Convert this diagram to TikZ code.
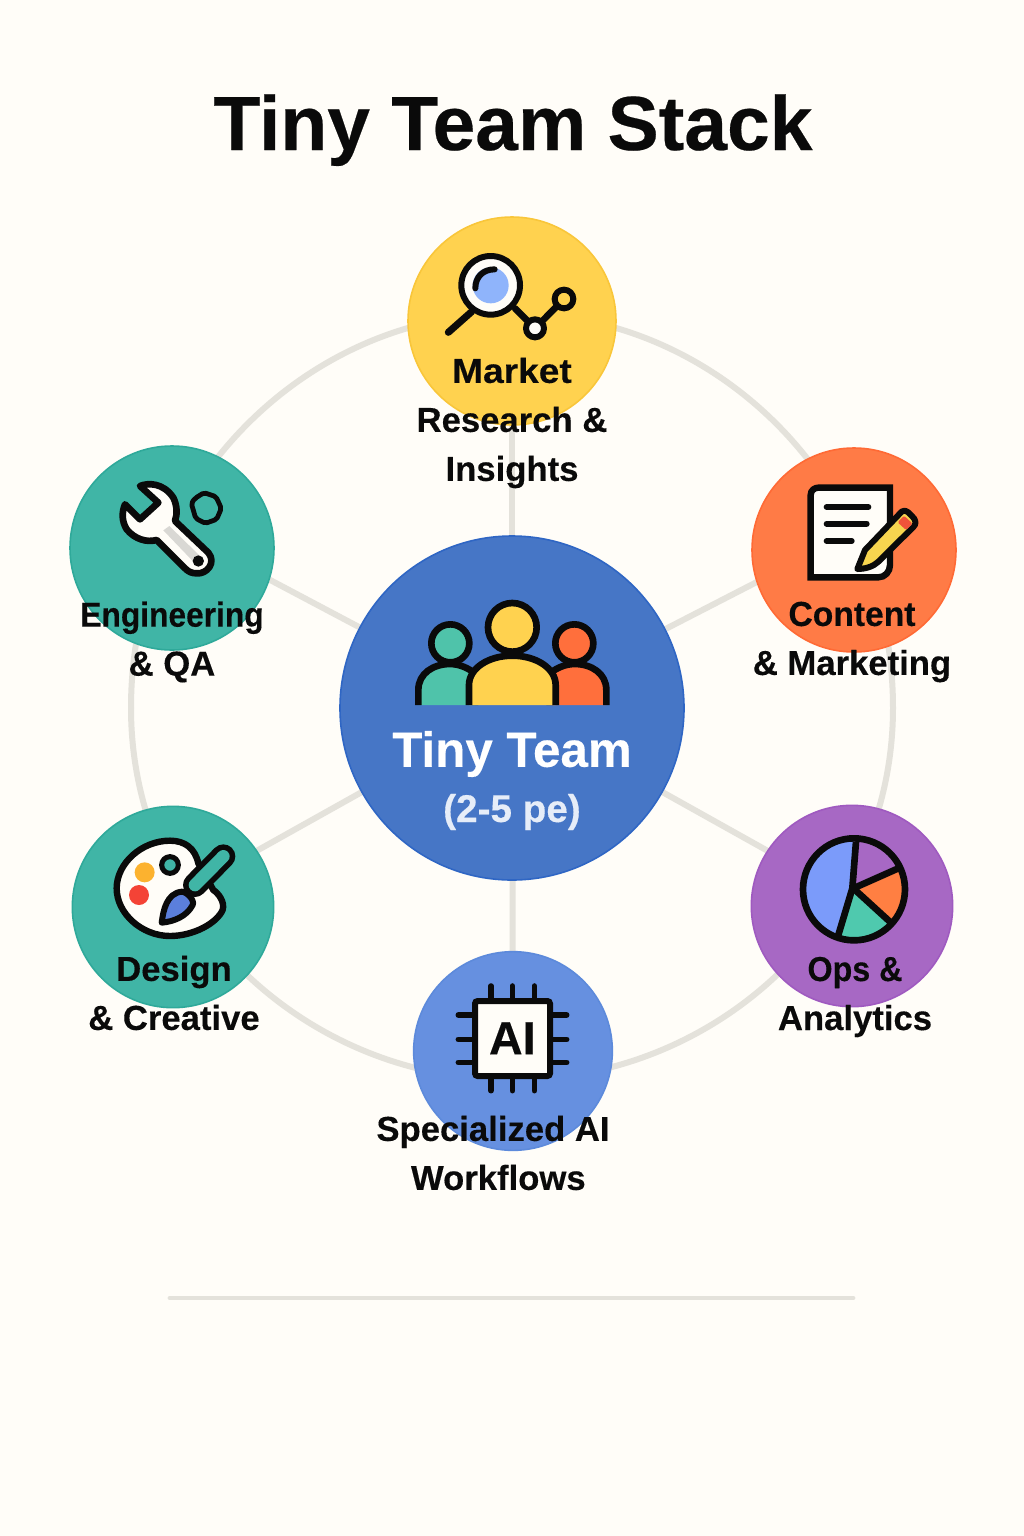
\documentclass[tikz,border=0pt]{standalone}
\usepackage{fontspec}
\setmainfont{Liberation Sans}[BoldFeatures={FakeBold=0.3}]
\definecolor{paper}{HTML}{FFFDF8}
\definecolor{linegray}{HTML}{E4E2DB}
\definecolor{ink}{HTML}{0A0A0A}
\definecolor{cyellow}{HTML}{FFD24F}
\definecolor{eyellow}{HTML}{F9C63A}
\definecolor{cteal}{HTML}{40B5A6}
\definecolor{eteal}{HTML}{2FA99A}
\definecolor{corange}{HTML}{FF7B46}
\definecolor{eorange}{HTML}{FF6A35}
\definecolor{cpurple}{HTML}{A768C4}
\definecolor{epurple}{HTML}{9F5AC0}
\definecolor{cblue}{HTML}{6690E0}
\definecolor{eblue}{HTML}{5D8ADB}
\definecolor{chub}{HTML}{4676C6}
\definecolor{ehub}{HTML}{2F66C4}
\definecolor{pteal}{HTML}{4FC3AA}
\definecolor{porange}{HTML}{FF6F3C}
\definecolor{lightblue}{HTML}{8FB4FB}
\definecolor{pieblue}{HTML}{7B9BFA}
\definecolor{piegreen}{HTML}{4FC9AE}
\definecolor{pieorange}{HTML}{FF7F42}
\definecolor{brushblue}{HTML}{5B7FDC}
\definecolor{hubsub}{HTML}{E6EDF8}
\definecolor{dotorange}{HTML}{FCB22F}
\definecolor{dotred}{HTML}{F44336}
\definecolor{eraser}{HTML}{F0533A}
\definecolor{pencily}{HTML}{F7D54F}
\definecolor{strip}{HTML}{D9D8D4}
\tikzset{
  disc/.style={circle,inner sep=0pt,draw=#1,line width=1.2pt},
  spoke/.style={draw=linegray,line width=4.5pt,shorten <=-2pt},
  ringline/.style={draw=linegray,line width=4.5pt},
  lab/.style={font=\fontsize{26}{36.75}\selectfont\bfseries,text=ink,align=center,inner sep=0pt},
  thick ink/.style={draw=ink,line width=#1,line cap=round,line join=round},
  body ink/.style={draw=ink,line width=5pt,line cap=butt,line join=round},
  zoomed/.style={x=0.25pt,y=-0.25pt}
}
\pgfdeclarelayer{bg}
\pgfsetlayers{bg,main}
\begin{document}
\begin{tikzpicture}[x=0.75pt,y=-0.75pt]
\useasboundingbox (0,0) rectangle (1024,1536);

% discs
\node[disc=ehub,fill=chub,minimum size=258pt] (hub) at (512,708) {};
\node[disc=eyellow,fill=cyellow,minimum size=156pt] (market) at (512,321) {};
\node[disc=eorange,fill=corange,minimum size=153pt] (content) at (854,550) {};
\node[disc=epurple,fill=cpurple,minimum size=151pt] (ops) at (852,906) {};
\node[disc=eblue,fill=cblue,minimum size=149pt] (ai) at (513,1051) {};
\node[disc=eteal,fill=cteal,minimum size=151pt] (design) at (173,907) {};
\node[disc=eteal,fill=cteal,minimum size=153pt] (eng) at (172,548) {};

\begin{pgfonlayer}{bg}
\fill[paper] (0,0) rectangle (1024,1536);
\draw[ringline] (131,708) .. controls (131,490) and (302,313) .. (512,313)
   .. controls (722,313) and (893,490) .. (893,708);
\draw[ringline] (131,708) .. controls (131,913) and (302,1080) .. (512,1080)
   .. controls (722,1080) and (893,913) .. (893,708);
\draw[spoke] (hub) -- (market);
\draw[spoke] (hub) -- ([yshift=13.5pt]content.center);
\draw[spoke] (hub) -- ([yshift=6pt]ops.center);
\draw[spoke] (hub) -- (ai);
\draw[spoke] (hub) -- ([yshift=7pt]design.center);
\draw[spoke] (hub) -- ([yshift=15pt]eng.center);
\end{pgfonlayer}

% title & rule
\node[font=\fontsize{57.6}{60}\selectfont\bfseries,text=ink,anchor=base,inner sep=0pt] (title) at (513,150) {Tiny Team Stack};
\coordinate (ruleL) at (170,1298);
\coordinate (ruleR) at (853,1298);
\draw[draw=linegray,line width=3.6pt,line cap=round] (ruleL) -- (ruleR);

% --- people icon
\begin{scope}[shift={(400,590)},zoomed]
\draw[body ink,fill=pteal] (55,345) -- (55,300) .. controls (55,250) and (100,222) .. (150,222)
  .. controls (180,222) and (205,235) .. (225,250) -- (225,345);
\draw[body ink,fill=porange] (619,345) -- (619,300) .. controls (619,250) and (574,222) .. (524,222)
  .. controls (494,222) and (469,235) .. (449,250) -- (449,345);
\draw[thick ink=5pt,fill=pteal] (151,160) circle (57);
\draw[thick ink=5pt,fill=porange] (523,160) circle (57);
\draw[body ink,fill=cyellow] (207,345) -- (207,285) .. controls (207,235) and (265,197) .. (337,197)
  .. controls (409,197) and (467,235) .. (467,285) -- (467,345);
\draw[thick ink=5pt,fill=cyellow] (337,112) circle (73);
\end{scope}

% --- magnifier icon
\begin{scope}[shift={(400,210)},zoomed]
\draw[thick ink=5.3pt] (145,367) -- (215,305);
\draw[thick ink=5pt] (345,295) -- (405,355) -- (492,267);
\draw[thick ink=4.5pt,fill=paper] (272,226) circle (88);
\fill[lightblue] (272,226) circle (54);
\draw[thick ink=4.5pt] (226,235) .. controls (226,200) and (250,178) .. (284,178);
\draw[thick ink=4.5pt,fill=paper] (405,355) circle (27);
\draw[thick ink=4.5pt,fill=cyellow] (492,267) circle (28);
\end{scope}

% --- wrench icon
\begin{scope}[shift={(60,441)},zoomed]
\draw[thick ink=5pt,fill=paper] (240,135) .. controls (265,125) and (310,125) .. (340,170)
  .. controls (352,195) and (352,220) .. (345,240) -- (445,335)
  .. controls (470,365) and (440,400) .. (410,397) .. controls (395,397) and (385,392) .. (375,382)
  -- (290,297) .. controls (260,305) and (225,295) .. (200,265)
  .. controls (185,240) and (185,215) .. (195,190) -- (240,235) -- (295,185) -- cycle;
\fill[strip] (310,268) -- (328,255) -- (420,345) -- (400,362) -- cycle;
\fill[ink] (415,360) circle (17);
\end{scope}
\begin{scope}[shift={(60,440)},zoomed]
\draw[thick ink=3.6pt,rounded corners=1.5pt] (432,158) -- (468,170) -- (484,205) -- (470,238) -- (436,250) -- (407,235) -- (394,190) -- (405,175) -- cycle;
\end{scope}

% --- document icon
\begin{scope}[shift={(750,445)},zoomed]
\draw[thick ink=4.8pt,fill=paper,line join=miter] (182,150) .. controls (182,135) and (195,128) .. (205,128)
  -- (420,128) -- (420,360) .. controls (420,380) and (405,397) .. (385,397) -- (182,397) -- cycle;
\draw[thick ink=4.5pt] (230,186) -- (355,186);
\draw[thick ink=4.5pt] (230,236) -- (350,236);
\draw[thick ink=4.5pt] (230,288) -- (305,288);
\draw[thick ink=4.5pt,fill=pencily] (322,372) -- (345,315) -- (455,200) .. controls (465,195) and (470,198) .. (478,205)
  -- (492,220) .. controls (498,230) and (498,238) .. (490,246) -- (385,350) .. controls (370,365) and (345,372) .. (322,372) -- cycle;
\fill[eraser,rounded corners=1pt] (443,232) -- (462,212) -- (488,236) -- (468,255) -- cycle;
\end{scope}

% --- palette icon
\begin{scope}[shift={(70,810)},zoomed]
\draw[thick ink=4.8pt,fill=paper] (385,160) .. controls (375,115) and (345,92) .. (300,92)
  .. controls (215,92) and (140,160) .. (140,235)
  .. controls (140,310) and (215,378) .. (300,378)
  .. controls (370,378) and (440,340) .. (458,300)
  .. controls (465,275) and (445,250) .. (430,240) -- cycle;
\fill[dotorange] (224,187) circle (30);
\fill[dotred] (207,255) circle (30);
\draw[thick ink=3.8pt,fill=cteal] (300,165) circle (25);
\draw[ink,line width=18pt,line cap=round] (375,225) -- (460,139);
\draw[cteal,line width=9.5pt,line cap=round] (375,225) -- (460,139);
\draw[thick ink=4.5pt,fill=brushblue] (275,338) .. controls (280,300) and (290,250) .. (335,245)
  .. controls (350,245) and (375,270) .. (368,285) .. controls (350,320) and (310,335) .. (275,338) -- cycle;
\end{scope}

% --- pie icon
\begin{scope}[shift={(770,820)},zoomed]
\begin{scope}
\clip (252,208) circle (153);
\fill[pieblue] (238,205) -- (258,0) -- (0,0) -- (0,400) -- (180,420) -- cycle;
\fill[pieorange] (252,208) -- (450,115) -- (478,402) -- cycle;
\fill[piegreen] (245,208) -- (478,430) -- (160,480) -- cycle;
\end{scope}
\draw[thick ink=5pt,line cap=butt] (258,65) -- (247,205) -- (205,345);
\draw[thick ink=5pt,line cap=butt] (250,205) -- (385,145);
\draw[thick ink=5pt,line cap=butt] (250,205) -- (365,310);
\draw[thick ink=5pt] (252,208) circle (153);
\end{scope}

% --- chip icon
\begin{scope}[shift={(440,970)},zoomed]
\foreach \px in {153,217,283} {
  \draw[ink,line width=4.2pt,line cap=round] (\px,48) -- (\px,90);
  \draw[ink,line width=4.2pt,line cap=round] (\px,320) -- (\px,362);
}
\foreach \py in {135,208,277} {
  \draw[ink,line width=4.2pt,line cap=round] (55,\py) -- (100,\py);
  \draw[ink,line width=4.2pt,line cap=round] (335,\py) -- (380,\py);
}
\draw[draw=ink,line width=4.5pt,fill=paper,rounded corners=2pt] (105,93) rectangle (330,318);
\node[font=\fontsize{35}{36}\selectfont\bfseries,text=ink,inner sep=0pt] (chiptext) at (217,205) {AI};
\end{scope}

% labels
\node[font=\fontsize{37}{40}\selectfont\bfseries,text=white,inner sep=0pt] (hubtitle) at (512,754) {Tiny Team};
\node[font=\fontsize{29}{32}\selectfont\bfseries,text=hubsub,inner sep=0pt] (hubsubt) at (512,812) {(2-5 pe)};
\node[lab] (lmarket) at (512,423) {\scalebox{1.07}[1]{Market}\\Research \&\\Insights};
\node[lab] (leng) at (172,642) {\scalebox{0.915}[1]{Engineering}\\\& QA};
\node[lab] (lcontent) at (852,642) {\scalebox{0.97}[1]{Content}\\\& Marketing};
\node[lab] (lops) at (855,997) {\scalebox{0.93}[1]{Ops \&}\\Analytics};
\node[lab] (ldesign) at (174,993) {Design\\\& Creative};
\node[lab] (lai) at (493,1153) {Specialized AI\\\hspace*{8pt}Workflows};
\end{tikzpicture}
\end{document}
